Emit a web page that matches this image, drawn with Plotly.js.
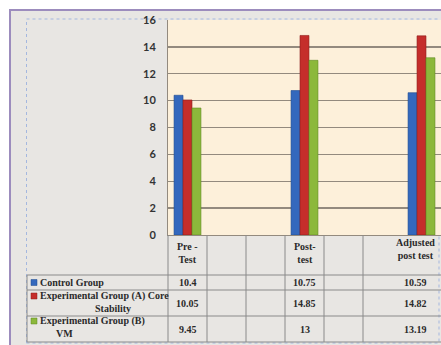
<!DOCTYPE html>
<html>
<head>
<meta charset="utf-8">
<script src="https://cdn.plot.ly/plotly-3.0.1.min.js"></script>
<style>
  html, body { margin: 0; padding: 0; background: #ffffff; }
  #chart { width: 441px; height: 345px; }
</style>
</head>
<body>
<div id="chart"></div>
<script>
// Test phases shown in the data table header
const phases = ['Pre -<br>Test', 'Post-<br>test', 'Adjusted<br>post test'];

// Group names (row labels of the data table)
const groupNames = ['Control Group', 'Experimental Group (A) Core Stability', 'Experimental Group (B) VM'];

// Mean scores per group and phase
const controlGroup = [10.4, 10.75, 10.59];
const coreStability = [10.05, 14.85, 14.82];
const vmGroup = [9.45, 13, 13.19];

// Y-axis tick values
const yTicks = [0, 2, 4, 6, 8, 10, 12, 14, 16];

// ---- drawing ----
const W = 441, H = 345;
const M = { l: 168, r: 0, t: 20, b: 110 };
const plotW = W - M.l - M.r, plotH = H - M.t - M.b;
const px = x => (x - M.l) / plotW;          // pixel x -> paper x
const py = y => (H - M.b - y) / plotH;      // pixel y -> paper y

// each phase sits in every third column of the table
const slot = i => i * 3;
const xs = phases.map((_, i) => slot(i));

const colors = ['#3468bd', '#c52e2b', '#8cb83b'];
const edge = ['#1f4a8f', '#8e1d1b', '#5f8a22'];
const series = [controlGroup, coreStability, vmGroup];

const traces = series.map((vals, k) => ({
  type: 'bar',
  x: xs,
  y: vals,
  name: groupNames[k],
  marker: { color: colors[k], line: { color: edge[k], width: 0.6 } },
  hoverinfo: 'y'
}));

const gridCol = '#938a7e';
const tableCol = '#8a8a8a';
const serif = 'Liberation Serif, Times New Roman, serif';
const textCol = '#2a2a2a';

const shapes = [];
// textured card behind everything
shapes.push({ type: 'rect', xref: 'paper', yref: 'paper', layer: 'below',
  x0: px(10), x1: px(460), y0: py(360), y1: py(10),
  fillcolor: '#e8e6e3', line: { color: '#9c8cbd', width: 2 } });
// dotted chart-area outline
shapes.push({ type: 'rect', xref: 'paper', yref: 'paper', layer: 'below',
  x0: px(26.5), x1: px(439), y0: py(343), y1: py(19),
  line: { color: '#a4b7df', width: 1, dash: 'dot' } });
// warm plot background
shapes.push({ type: 'rect', xref: 'paper', yref: 'paper', layer: 'below',
  x0: 0, x1: 1, y0: 0, y1: 1, fillcolor: '#fdf0da', line: { width: 0 } });

// data table grid
const rowLines = [275, 290, 316, 342];
rowLines.forEach(y => shapes.push({ type: 'line', xref: 'paper', yref: 'paper',
  x0: px(27), x1: px(441), y0: py(y), y1: py(y), line: { color: tableCol, width: 1 } }));
shapes.push({ type: 'line', xref: 'paper', yref: 'paper',
  x0: px(27), x1: px(27), y0: py(275), y1: py(342), line: { color: tableCol, width: 1 } });
shapes.push({ type: 'line', xref: 'paper', yref: 'paper',
  x0: 0, x1: 0, y0: py(235), y1: py(342), line: { color: tableCol, width: 1 } });
[0.5, 1.5, 2.5, 3.5, 4.5].forEach(b => shapes.push({ type: 'line', xref: 'x', yref: 'paper',
  x0: b, x1: b, y0: py(235), y1: py(342), line: { color: tableCol, width: 1 } }));

// legend keys inside the table rows
const rowMid = [282.5, 296, 321];
rowMid.forEach((y, k) => shapes.push({ type: 'rect', xref: 'paper', yref: 'paper',
  x0: px(31), x1: px(37), y0: py(y + 3), y1: py(y - 3),
  fillcolor: colors[k], line: { color: edge[k], width: 0.5 } }));

const ann = [];
const tfont = { family: serif, size: 10, color: textCol };
// header cells
const headerX = [slot(0), slot(1), 5.85];
const headerY = [253, 253, 249];
phases.forEach((p, i) => ann.push({ xref: 'x', yref: 'paper', x: headerX[i], y: py(headerY[i]),
  text: '<b>' + p + '</b>', showarrow: false, font: tfont, xanchor: 'center', yanchor: 'middle' }));
// values
const valueY = [282.5, 303, 329];
series.forEach((vals, k) => vals.forEach((v, i) => ann.push({ xref: 'x', yref: 'paper',
  x: headerX[i], y: py(valueY[k]), text: '<b>' + v + '</b>', showarrow: false, font: tfont,
  xanchor: 'center', yanchor: 'middle' })));
// row labels (wrapped like the table cells)
const labelLines = [
  [groupNames[0], null],
  ['Experimental Group (A) Core', 'Stability'],
  ['Experimental Group (B)', 'VM']
];
const secondX = [0, 113, 64];
const secondY = [0, 308, 333];
labelLines.forEach((ln, k) => {
  ann.push({ xref: 'paper', yref: 'paper', x: px(38), y: py(rowMid[k]), text: '<b>' + ln[0] + '</b>',
    showarrow: false, font: tfont, xanchor: 'left', yanchor: 'middle' });
  if (ln[1]) ann.push({ xref: 'paper', yref: 'paper', x: px(secondX[k]), y: py(secondY[k]),
    text: '<b>' + ln[1] + '</b>', showarrow: false, font: tfont, xanchor: 'center', yanchor: 'middle' });
});

const layout = {
  width: W, height: H,
  margin: M,
  paper_bgcolor: '#ffffff',
  plot_bgcolor: 'rgba(0,0,0,0)',
  showlegend: false,
  barmode: 'group',
  bargap: 0.77,
  bargroupgap: 0,
  xaxis: {
    range: [-0.5, 6.5], showticklabels: false, showgrid: false, zeroline: false,
    showline: true, linecolor: gridCol, linewidth: 1, ticks: '', fixedrange: true
  },
  yaxis: {
    range: [0, 16], tickvals: yTicks, ticktext: yTicks.map(String),
    showgrid: true, gridcolor: gridCol, gridwidth: 1.4, zeroline: false,
    showline: true, linecolor: gridCol, linewidth: 1,
    ticks: 'outside', ticklen: 9, tickcolor: 'rgba(0,0,0,0)',
    tickfont: { family: 'Lato, Open Sans, sans-serif', size: 11, color: '#333333', weight: 'bold' },
    fixedrange: true
  },
  shapes: shapes,
  annotations: ann
};

Plotly.newPlot('chart', traces, layout, { displayModeBar: false, staticPlot: true });
</script>
</body>
</html>
